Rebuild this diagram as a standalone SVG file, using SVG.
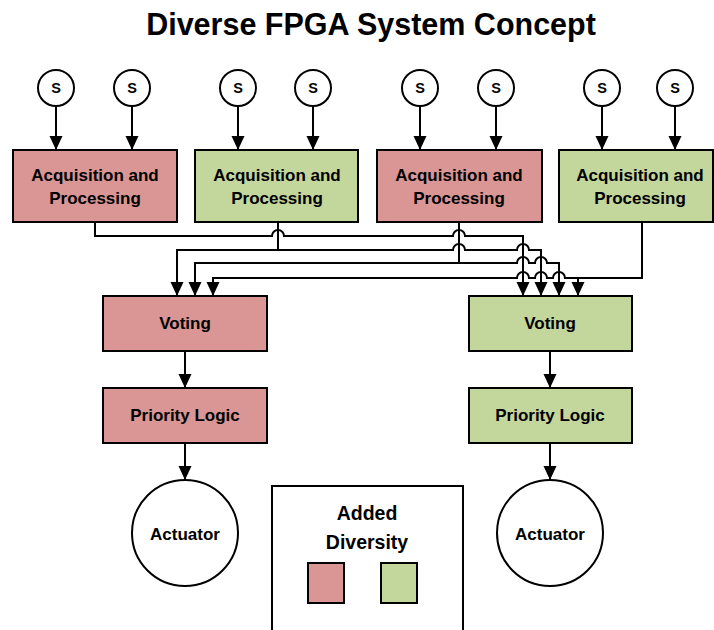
<svg xmlns="http://www.w3.org/2000/svg" width="714" height="630" viewBox="0 0 714 630">
<style>
.red{fill:#D99694;stroke:#000;stroke-width:2}
.green{fill:#C3D69B;stroke:#000;stroke-width:2}
.circ{fill:#fff;stroke:#000;stroke-width:2}
.t{font-family:"Liberation Sans",Arial,sans-serif;font-weight:bold;fill:#000;text-anchor:middle;dominant-baseline:central}
.box{font-size:17px}
.s{font-size:14.5px}
.wire{fill:none;stroke:#000;stroke-width:2}
</style>
<defs>
<marker id="arr" markerUnits="userSpaceOnUse" markerWidth="14" markerHeight="14" refX="14" refY="6.5" orient="auto">
<path d="M0,0 L14,6.5 L0,13 z" fill="#000"/>
</marker>
</defs>
<rect width="714" height="630" fill="#fff"/>
<text class="t" x="371" y="24" style="font-size:30.5px">Diverse FPGA System Concept</text>

<g id="connectors">
<path class="wire" marker-end="url(#arr)" d="M56,106 V150"/>
<path class="wire" marker-end="url(#arr)" d="M132,106 V150"/>
<path class="wire" marker-end="url(#arr)" d="M238,106 V150"/>
<path class="wire" marker-end="url(#arr)" d="M313,106 V150"/>
<path class="wire" marker-end="url(#arr)" d="M420,106 V150"/>
<path class="wire" marker-end="url(#arr)" d="M496,106 V150"/>
<path class="wire" marker-end="url(#arr)" d="M602,106 V150"/>
<path class="wire" marker-end="url(#arr)" d="M675,106 V150"/>
<path class="wire" marker-end="url(#arr)" d="M95,222 V236 H272 a6,6 0 0 1 12,0 H453 a6,6 0 0 1 12,0 H523 V296"/>
<path class="wire" marker-end="url(#arr)" d="M278,250 H177 V296"/>
<path class="wire" marker-end="url(#arr)" d="M278,222 V250 H453 a6,6 0 0 1 12,0 H517 a6,6 0 0 1 12,0 H541 V296"/>
<path class="wire" marker-end="url(#arr)" d="M459,263 H195 V296"/>
<path class="wire" marker-end="url(#arr)" d="M459,222 V263 H517 a6,6 0 0 1 12,0 H535 a6,6 0 0 1 12,0 H559 V296"/>
<path class="wire" marker-end="url(#arr)" d="M642,222 V278 H565 a6,6 0 0 0 -12,0 H547 a6,6 0 0 0 -12,0 H529 a6,6 0 0 0 -12,0 H213 V296"/>
<path class="wire" marker-end="url(#arr)" d="M578,278 V296"/>
<path class="wire" marker-end="url(#arr)" d="M185,351 V388"/>
<path class="wire" marker-end="url(#arr)" d="M185,443 V480"/>
<path class="wire" marker-end="url(#arr)" d="M550,351 V388"/>
<path class="wire" marker-end="url(#arr)" d="M550,443 V480"/>
</g>

<g id="s1"><circle class="circ" cx="56" cy="88" r="18"/><text class="t s" x="56" y="88">S</text></g>
<g id="s2"><circle class="circ" cx="132" cy="88" r="18"/><text class="t s" x="132" y="88">S</text></g>
<g id="s3"><circle class="circ" cx="238" cy="88" r="18"/><text class="t s" x="238" y="88">S</text></g>
<g id="s4"><circle class="circ" cx="313" cy="88" r="18"/><text class="t s" x="313" y="88">S</text></g>
<g id="s5"><circle class="circ" cx="420" cy="88" r="18"/><text class="t s" x="420" y="88">S</text></g>
<g id="s6"><circle class="circ" cx="496" cy="88" r="18"/><text class="t s" x="496" y="88">S</text></g>
<g id="s7"><circle class="circ" cx="602" cy="88" r="18"/><text class="t s" x="602" y="88">S</text></g>
<g id="s8"><circle class="circ" cx="675" cy="88" r="18"/><text class="t s" x="675" y="88">S</text></g>

<g id="acq1"><rect class="red" x="13" y="150" width="164" height="72"/><text class="t box" x="95" y="175">Acquisition and</text><text class="t box" x="95" y="198">Processing</text></g>
<g id="acq2"><rect class="green" x="195" y="150" width="163" height="72"/><text class="t box" x="277" y="175">Acquisition and</text><text class="t box" x="277" y="198">Processing</text></g>
<g id="acq3"><rect class="red" x="377" y="150" width="165" height="72"/><text class="t box" x="459" y="175">Acquisition and</text><text class="t box" x="459" y="198">Processing</text></g>
<g id="acq4"><rect class="green" x="559" y="150" width="154" height="72"/><text class="t box" x="640" y="175">Acquisition and</text><text class="t box" x="640" y="198">Processing</text></g>

<g id="vote1"><rect class="red" x="103" y="296" width="164" height="55"/><text class="t box" x="185" y="323">Voting</text></g>
<g id="vote2"><rect class="green" x="469" y="296" width="163" height="55"/><text class="t box" x="550" y="323">Voting</text></g>
<g id="prio1"><rect class="red" x="103" y="388" width="164" height="55"/><text class="t box" x="185" y="415">Priority Logic</text></g>
<g id="prio2"><rect class="green" x="469" y="388" width="163" height="55"/><text class="t box" x="550" y="415">Priority Logic</text></g>
<g id="act1"><circle class="circ" cx="185" cy="533" r="53"/><text class="t" x="185" y="534" style="font-size:17px">Actuator</text></g>
<g id="act2"><circle class="circ" cx="550" cy="533" r="53"/><text class="t" x="550" y="534" style="font-size:17px">Actuator</text></g>

<g id="legend">
<rect x="272" y="486" width="191" height="160" fill="#fff" stroke="#000" stroke-width="2"/>
<text class="t" x="367" y="513" style="font-size:19.5px">Added</text>
<text class="t" x="367" y="542" style="font-size:19.5px">Diversity</text>
<rect class="red" x="308" y="563" width="36" height="40" stroke-width="1.5"/>
<rect class="green" x="381" y="563" width="36" height="40" stroke-width="1.5"/>
</g>
</svg>
